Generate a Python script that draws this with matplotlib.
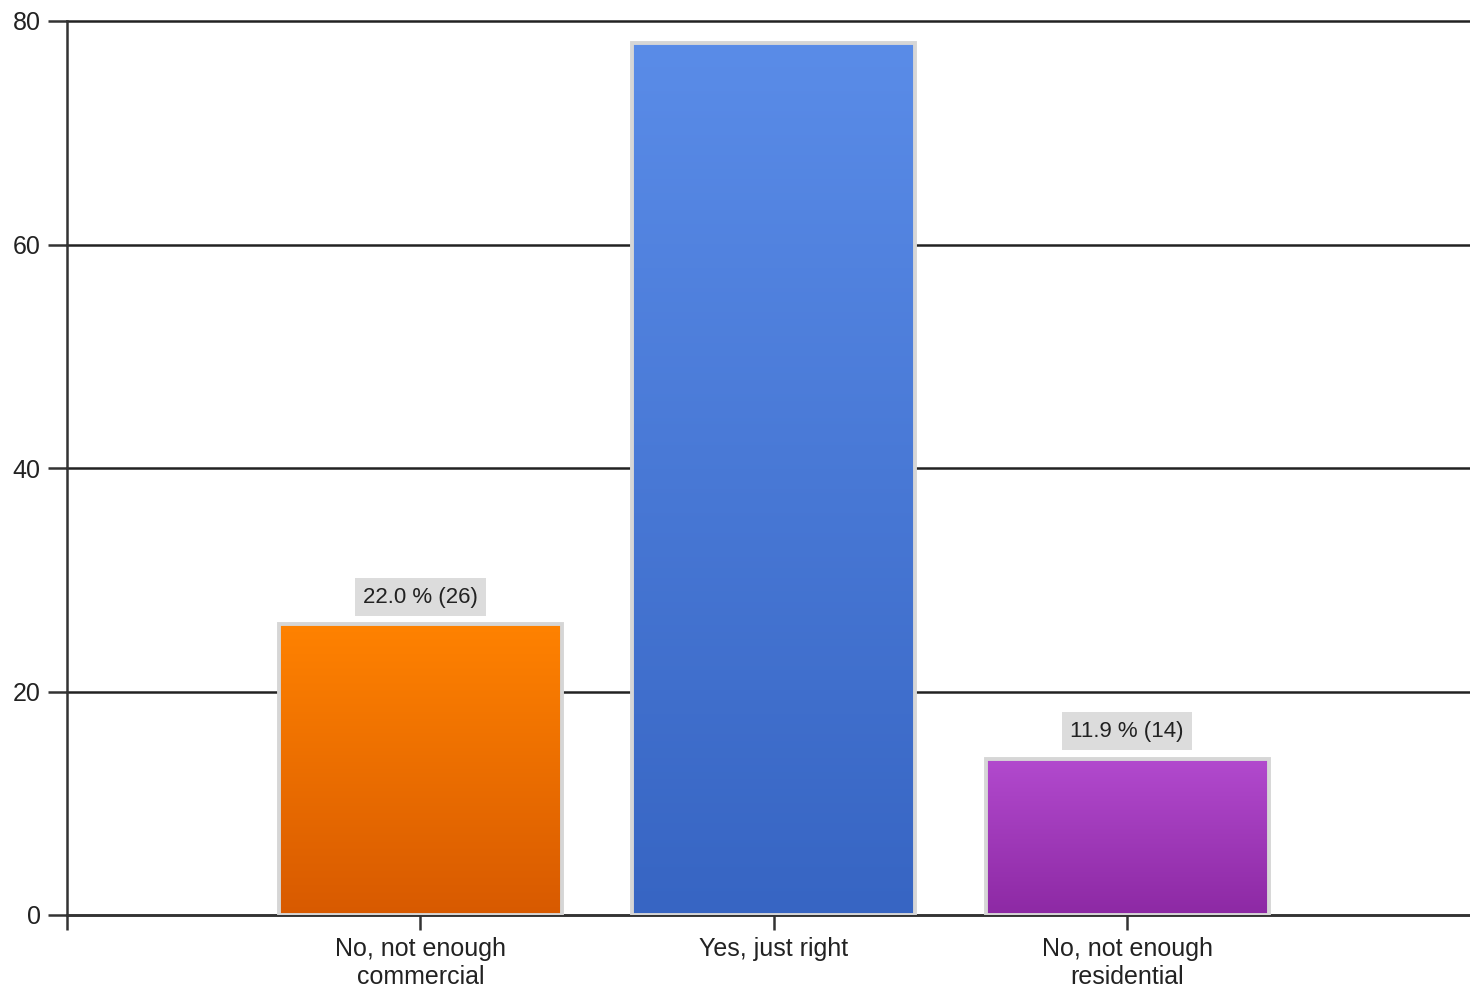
import numpy as np
import matplotlib.pyplot as plt
from matplotlib.colors import LinearSegmentedColormap

plt.rcParams['font.family'] = ['Liberation Sans', 'DejaVu Sans']

categories = ["No, not enough\ncommercial", "Yes, just right", "No, not enough\nresidential"]
counts = [26, 78, 14]
show_label = [True, False, True]
top_colors = ["#ff8200", "#5a8ce8", "#b24ace"]
bottom_colors = ["#d85a00", "#3765c3", "#8d29a4"]

total = sum(counts)

fig = plt.figure(figsize=(14.7, 9.91), dpi=100)
ax = fig.add_axes([67 / 1470, 1 - 915 / 991, 1403 / 1470, (915 - 21) / 991])

x = np.arange(len(categories))
bars = ax.bar(x, counts, width=0.8, color="none", edgecolor="#d6d6d6",
              linewidth=2.8, zorder=4)

# vertical gradient inside each bar
grad = np.linspace(1, 0, 256).reshape(-1, 1)
for bar, c_top, c_bot in zip(bars, top_colors, bottom_colors):
    cmap = LinearSegmentedColormap.from_list("g", [c_bot, c_top])
    x0, w, h = bar.get_x(), bar.get_width(), bar.get_height()
    im = ax.imshow(grad, cmap=cmap, aspect="auto", origin="upper",
                   extent=[x0, x0 + w, 0, h], zorder=3, vmin=0, vmax=1)
    im.set_clip_path(bar)

for bar, n, show in zip(bars, counts, show_label):
    if not show:
        continue
    pct = n / total * 100
    ax.annotate(f"{pct:.1f} % ({n})",
                xy=(bar.get_x() + bar.get_width() / 2, n),
                xytext=(0, 12), textcoords="offset points",
                ha="center", va="bottom", fontsize=16, color="#222222",
                bbox=dict(boxstyle="square,pad=0.38", fc="#dcdcdc", ec="none"),
                zorder=5)

ax.set_xlim(-1, 2.97)
ax.set_ylim(0, 80)
ax.set_yticks([0, 20, 40, 60, 80])
ax.set_xticks([-1, 0, 1, 2])
ax.set_xticklabels([""] + categories)
ax.tick_params(axis="both", labelsize=18, colors="#333333", labelcolor="#222222",
               width=1.8, length=11)
ax.tick_params(axis="x", pad=5)
ax.tick_params(axis="y", length=14, pad=5)

ax.yaxis.grid(True, color="#222222", linewidth=1.8)
for gl in ax.get_ygridlines():
    gl.set_clip_on(False)
ax.set_axisbelow(True)
for side in ["top", "right"]:
    ax.spines[side].set_visible(False)
for side in ["left", "bottom"]:
    ax.spines[side].set_color("#333333")
    ax.spines[side].set_linewidth(1.8)
ax.patch.set_alpha(0)

fig.savefig("out.png", dpi=100)
